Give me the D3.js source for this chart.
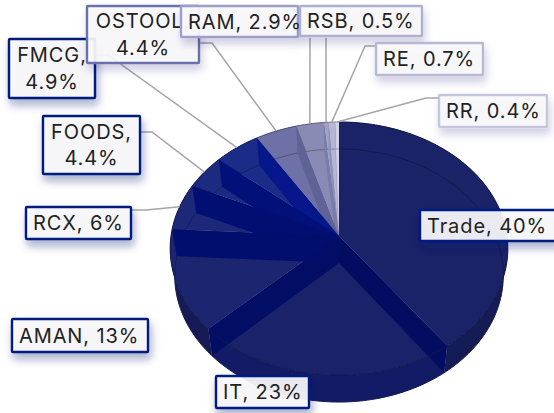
<!DOCTYPE html>
<html><head><meta charset="utf-8">
<script src="https://cdn.jsdelivr.net/npm/d3@7/dist/d3.min.js"></script>
<style>html,body{margin:0;padding:0;background:#fff}svg{display:block}</style>
</head><body><svg id="c" width="554" height="413"></svg>
<script>
const categories=["Trade","IT","AMAN","RCX","FOODS","FMCG","OSTOOL","RAM","RSB","RE","RR"];
const shares=[40,23,13,6,4.4,4.9,4.4,2.9,0.5,0.7,0.4];
const labelLines=[["Trade, 40%"],["IT, 23%"],["AMAN, 13%"],["RCX, 6%"],["FOODS,","4.4%"],["FMCG,","4.9%"],["OSTOOL,","4.4%"],["RAM, 2.9%"],["RSB, 0.5%"],["RE, 0.7%"],["RR, 0.4%"]];
// appearance per slice
const faceColors=["#1a2268","#1a226a","#1c2570","#1d2878","#1c2a80","#1a2b88","#6d71a5","#898bb4","#a0a2c6","#b4b6d4","#d0d2e6"];
const endWallColors=["#020d62","#020d66","#020e6e","#020e72","#02107a","#05178a","#5e6296","#7a7da8","#8f92b8","#a5a7c8","#c4c6dd"];
const outerWallColors=["#151b55","#131b66","#161b55","#161b55","#161b55","#161b55","#555","#555","#555","#555","#555"];
const borderColors=["#001a80","#001a80","#001a80","#001a80","#001a80","#001a80","#6b70ab","#9c9fc8","#aeb0d0","#b6b8d6","#c4c6de"];
// label box: left, top, width, height
const labelBoxes=[[419,209,140,33],[215,375,95,34],[11,318,138,35],[25,206,107,34],[42,115,99,60],[8,38,88,61],[86,5,114,59],[180,5,119,33],[299,5,124,32],[375,42,109,34],[438,94,110,34]];
const leaderElbows=[null,null,null,[146,210],[152,132],[108,55],[212,43],[310,38],[326,38],[365,46],[426,98]];

const svg=d3.select("#c");
const defs=svg.append("defs");
[["sh",0.36],["shl",0.2]].forEach(([id,o])=>{
 const f=defs.append("filter").attr("id",id).attr("x","-30%").attr("y","-30%").attr("width","170%").attr("height","190%");
 f.append("feDropShadow").attr("dx",2).attr("dy",6).attr("stdDeviation",4).attr("flood-color","#0a1470").attr("flood-opacity",o);
});

// perspective projection of the pie disc
const ax=339,ayTop=236,depth=27,A=168,Abot=163.5,B=125.3,k=0.0988;
function proj(a,dy){const u=Math.sin(a),v=-Math.cos(a),d=1-k*v;return [ax+(dy?Abot:A)*u/d,ayTop+(dy||0)+B*v/d];}
function arcPts(a0,a1,dy){const n=Math.max(2,Math.ceil(Math.abs(a1-a0)/0.02));return d3.range(n+1).map(i=>proj(a0+(a1-a0)*i/n,dy));}
const line=d3.line();

const arcs=d3.pie().sort(null).value(d=>d).startAngle(0).endAngle(2*Math.PI)(shares);
arcs.forEach((d,i)=>{d.i=i;d.mid=(d.startAngle+d.endAngle)/2;});

const gPie=svg.append("g");
// outer walls (front part only: the back is hidden by the top faces)
gPie.selectAll("path.wall").data(arcs).join("path").attr("class","wall")
 .attr("d",d=>line([...arcPts(d.startAngle,d.endAngle,0),...arcPts(d.endAngle,d.startAngle,depth)])+"Z")
 .attr("fill",d=>outerWallColors[d.i]);
// top faces
gPie.selectAll("path.top").data(arcs).join("path").attr("class","top")
 .attr("d",d=>line([[ax,ayTop],...arcPts(d.startAngle,d.endAngle,0)])+"Z")
 .attr("fill",d=>faceColors[d.i]);
// lower rim seen through the top faces
gPie.selectAll("path.ghost").data(arcs).join("path").attr("class","ghost")
 .attr("d",d=>line(arcPts(d.startAngle,d.endAngle,depth)))
 .attr("fill","none").attr("stroke",d=>d3.color(faceColors[d.i]).darker(0.9)).attr("stroke-width",1);
// radial end walls, painted from the last slice back to the first
gPie.selectAll("path.rad").data(arcs.slice().reverse()).join("path").attr("class","rad")
 .attr("d",d=>line([[ax,ayTop],proj(d.endAngle,0),proj(d.endAngle,depth),[ax,ayTop+depth]])+"Z")
 .attr("fill",d=>endWallColors[d.i]);
// upper rim
gPie.selectAll("path.rim").data(arcs).join("path").attr("class","rim")
 .attr("d",d=>line(arcPts(d.startAngle,d.endAngle,0)))
 .attr("fill","none").attr("stroke",d=>d3.color(faceColors[d.i]).darker(1)).attr("stroke-width",1);

// leaders
const gL=svg.append("g");
arcs.forEach((d,i)=>{
 if(!leaderElbows[i])return;
 const b=labelBoxes[i],e=leaderElbows[i],p=proj(d.mid,0);
 const start=(i===7||i===8)?[e[0],e[1]]:[e[0]<b[0]?b[0]:b[0]+b[2],e[1]];
 gL.append("path").attr("d",line([start,e,p])).attr("fill","none").attr("stroke","#a6a6a6").attr("stroke-width",1.5);
});

// labels
const gT=svg.append("g");
arcs.forEach((d,i)=>{
 const b=labelBoxes[i],g=gT.append("g");
 g.append("rect").attr("x",b[0]+1).attr("y",b[1]+1).attr("width",b[2]-2).attr("height",b[3]-2).attr("rx",1)
  .attr("fill","#f8f8fb").attr("fill-opacity",0.92).attr("stroke",borderColors[i]).attr("stroke-width",2.4)
  .attr("filter",i<6?"url(#sh)":"url(#shl)");
 const ls=labelLines[i],cy=b[1]+b[3]/2,multi=ls.length>1;
 ls.forEach((t,j)=>g.append("text").attr("x",multi?b[0]+b[2]/2:b[0]+8).attr("y",cy+(j-(ls.length-1)/2)*26.5+7)
  .attr("text-anchor",multi?"middle":"start")
  .attr("font-family","Inter").attr("font-size",20).attr("fill","#222").attr("letter-spacing",0.9).text(t));
});
</script></body></html>
